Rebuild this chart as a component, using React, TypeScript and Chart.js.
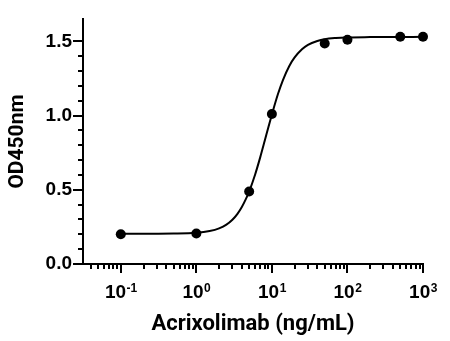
import React, { useEffect, useRef } from "react";
import { Chart, registerables } from "chart.js";
Chart.register(...registerables);

// Measured points
const concentrations = [0.1, 1, 5, 10, 50, 100, 500, 1000];
const odValues = [0.2, 0.205, 0.488, 1.01, 1.485, 1.51, 1.53, 1.53];

// Fitted curve
const curveX = [0.1, 0.5, 1, 1.5, 2, 2.5, 3, 3.5, 4, 4.5, 5, 6, 7, 8, 9, 10, 12, 14, 17, 20, 25, 30, 40, 50, 70, 100, 200, 500, 1000];
const curveY = [0.203, 0.205, 0.21, 0.222, 0.24, 0.265, 0.298, 0.338, 0.384, 0.435, 0.488, 0.603, 0.718, 0.826, 0.923, 1.007, 1.143, 1.239, 1.334, 1.391, 1.446, 1.476, 1.502, 1.514, 1.522, 1.526, 1.528, 1.529, 1.53];

const xTickValues = [0.1, 1, 10, 100, 1000];
const xTickBase = "10";
const xTickExponents = ["-1", "0", "1", "2", "3"];
const yTickValues = [0, 0.5, 1, 1.5];
const yTickLabels = ["0.0", "0.5", "1.0", "1.5"];

const xTitle = "Acrixolimab (ng/mL)";
const yTitle = "OD450nm";
const xMin = 0.0316;
const xMax = 1000;
const yMin = 0;
const yMax = 1.65;

const tickFont = "'Liberation Sans', Arial, sans-serif";

const tickMarks = {
  id: "tickMarks",
  afterDraw(chart: any) {
    const ctx = chart.ctx;
    const xs = chart.scales.x;
    const ys = chart.scales.y;
    ctx.save();
    ctx.strokeStyle = "#000";
    ctx.lineWidth = 2;
    ctx.lineCap = "butt";
    ys.ticks.forEach((t: any) => {
      const v = t.value;
      const k = Math.round(v * 10);
      if (Math.abs(v * 10 - k) > 1e-6 || v > yMax + 1e-9) return;
      const len = k % 5 === 0 ? 10 : 5;
      const y = Math.round(ys.getPixelForValue(v));
      ctx.beginPath();
      ctx.moveTo(ys.right - len, y);
      ctx.lineTo(ys.right, y);
      ctx.stroke();
    });
    xs.ticks.forEach((t: any) => {
      const v = t.value;
      if (v <= 0) return;
      const e = Math.floor(Math.log10(v) + 1e-9);
      const m = v / Math.pow(10, e);
      if (Math.abs(m - Math.round(m)) > 1e-6) return;
      const len = Math.round(m) === 1 ? 9 : 5;
      const x = Math.round(xs.getPixelForValue(v));
      ctx.beginPath();
      ctx.moveTo(x, xs.top);
      ctx.lineTo(x, xs.top + len);
      ctx.stroke();
    });
    // x tick labels with superscript exponents
    ctx.fillStyle = "#000";
    ctx.textBaseline = "alphabetic";
    ctx.textAlign = "left";
    const bigFont = "bold 19px " + tickFont;
    const supFont = "bold 12px " + tickFont;
    xTickValues.forEach((v, i) => {
      const x = xs.getPixelForValue(v);
      ctx.font = bigFont;
      const wb = ctx.measureText(xTickBase).width;
      ctx.font = supFont;
      const we = ctx.measureText(xTickExponents[i]).width;
      const start = x - (wb + we) / 2;
      const baseY = xs.top + 34;
      ctx.font = bigFont;
      ctx.fillText(xTickBase, start, baseY);
      ctx.font = supFont;
      ctx.fillText(xTickExponents[i], start + wb + 0.5, baseY - 6);
    });
    ctx.restore();
  },
};

export default function App() {
  const ref = useRef<HTMLCanvasElement | null>(null);
  useEffect(() => {
    if (!ref.current) return;
    const chart = new Chart(ref.current, {
      type: "scatter",
      data: {
        datasets: [
          {
            data: concentrations.map((x, i) => ({ x, y: odValues[i] })),
            showLine: false,
            pointRadius: 5,
            pointBackgroundColor: "#000",
            pointBorderColor: "#000",
            pointBorderWidth: 0,
            clip: false,
          },
          {
            data: curveX.map((x, i) => ({ x, y: curveY[i] })),
            showLine: true,
            pointRadius: 0,
            borderColor: "#000",
            borderWidth: 2,
            cubicInterpolationMode: "monotone",
            clip: false,
          },
        ],
      },
      options: {
        responsive: false,
        animation: false,
        layout: { padding: { top: 19, right: 27, left: 0, bottom: 0 } },
        plugins: { legend: { display: false }, tooltip: { enabled: false } },
        scales: {
          x: {
            type: "logarithmic",
            min: xMin,
            max: xMax,
            afterFit: (s: any) => {
              s.height = 77;
              s.paddingLeft = 0;
              s.paddingRight = 0;
            },
            grid: { display: false, drawTicks: false },
            border: { display: true, color: "#000", width: 2 },
            ticks: {
              autoSkip: false,
              maxRotation: 0,
              callback: () => "",
            },
            title: {
              display: true,
              text: xTitle,
              color: "#000",
              font: { family: "Roboto", size: 22, weight: "bold" },
              padding: { top: 0, bottom: 3 },
            },
          },
          y: {
            min: yMin,
            max: yMax,
            afterFit: (s: any) => {
              s.width = 83;
              s.paddingTop = 0;
              s.paddingBottom = 0;
            },
            grid: { display: false, drawTicks: false },
            border: { display: true, color: "#000", width: 2 },
            ticks: {
              stepSize: 0.1,
              autoSkip: false,
              padding: 11,
              color: "#000",
              font: { family: tickFont, size: 19, weight: "bold" },
              callback: (v: any) => {
                const val = Number(v);
                const i = yTickValues.findIndex((t) => Math.abs(val - t) < 1e-6);
                return i >= 0 ? yTickLabels[i] : "";
              },
            },
            title: {
              display: true,
              text: yTitle,
              color: "#000",
              font: { family: "Roboto", size: 21, weight: "bold" },
              padding: { top: 5, bottom: 0 },
            },
          },
        },
      },
      plugins: [tickMarks],
    } as any);
    return () => chart.destroy();
  }, []);
  return (
    <div style={{ position: "fixed", left: 0, top: 0, width: 450, height: 341, background: "#fff" }}>
      <canvas ref={ref} width={450} height={341} style={{ width: 450, height: 341, display: "block" }} />
    </div>
  );
}
